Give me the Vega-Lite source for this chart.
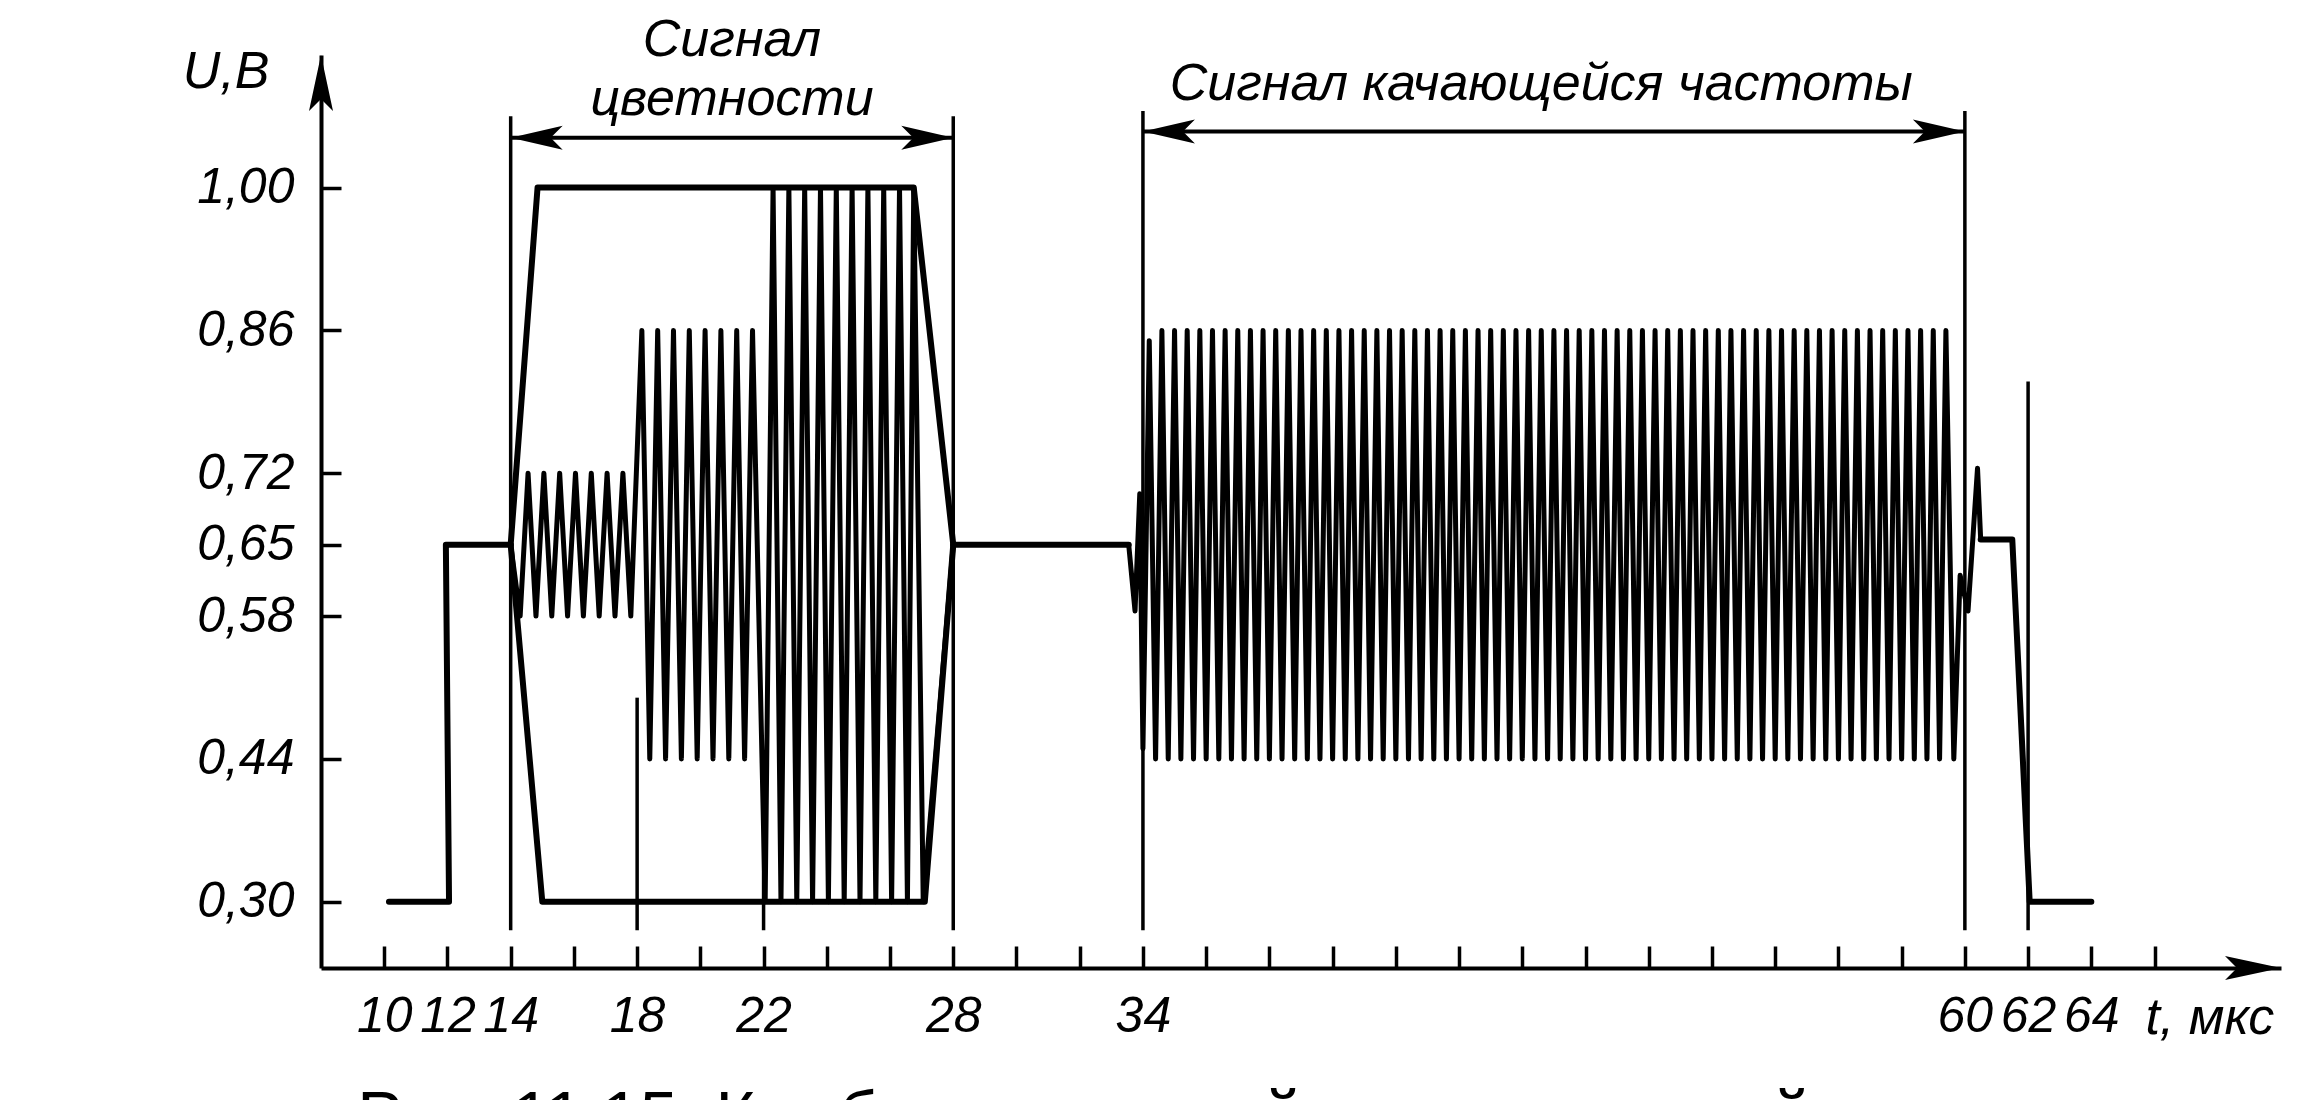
{
  "$schema": "https://vega.github.io/schema/vega-lite/v6.json",
  "width": 1960,
  "height": 913,
  "autosize": "none",
  "padding": {"left": 321, "top": 55, "right": 19, "bottom": 132},
  "background": "white",
  "config": {
    "view": {"stroke": null},
    "font": "Liberation Sans, DejaVu Sans, sans-serif",
    "axis": {
      "domainColor": "black", "domainWidth": 4, "tickColor": "black", "tickWidth": 3.5,
      "labelColor": "black", "labelFont": "Liberation Sans, DejaVu Sans, sans-serif",
      "labelFontSize": 50, "labelFontStyle": "italic", "grid": false,
      "labelOverlap": false, "labelBound": false, "labelFlush": false
    }
  },
  "datasets": {
    "pedestal": [
      {"seg": "a", "t": 10.15, "u": 0.30}, {"seg": "a", "t": 12.05, "u": 0.30}, {"seg": "a", "t": 11.95, "u": 0.65}, {"seg": "a", "t": 14.0, "u": 0.65},
      {"seg": "b", "t": 28.0, "u": 0.65}, {"seg": "b", "t": 33.55, "u": 0.65},
      {"seg": "c", "t": 60.5, "u": 0.655}, {"seg": "c", "t": 61.5, "u": 0.655}, {"seg": "c", "t": 62.05, "u": 0.30}, {"seg": "c", "t": 64.0, "u": 0.30}
    ],
    "envelope": [
      {"seg": "top", "t": 14.0, "u": 0.65}, {"seg": "top", "t": 14.85, "u": 1.0}, {"seg": "top", "t": 26.75, "u": 1.0}, {"seg": "top", "t": 28.0, "u": 0.65},
      {"seg": "bottom", "t": 14.0, "u": 0.65}, {"seg": "bottom", "t": 15.0, "u": 0.30}, {"seg": "bottom", "t": 27.1, "u": 0.30}, {"seg": "bottom", "t": 28.0, "u": 0.65}
    ],
    "chroma": [
      {"t": 14.0, "u": 0.65},
      {"t": 14.3, "u": 0.58}, {"t": 14.55, "u": 0.72}, {"t": 14.8, "u": 0.58}, {"t": 15.05, "u": 0.72}, {"t": 15.3, "u": 0.58},
      {"t": 15.55, "u": 0.72}, {"t": 15.8, "u": 0.58}, {"t": 16.05, "u": 0.72}, {"t": 16.3, "u": 0.58}, {"t": 16.55, "u": 0.72},
      {"t": 16.8, "u": 0.58}, {"t": 17.05, "u": 0.72}, {"t": 17.3, "u": 0.58}, {"t": 17.55, "u": 0.72}, {"t": 17.8, "u": 0.58},
      {"t": 18.15, "u": 0.86}, {"t": 18.4, "u": 0.44}, {"t": 18.65, "u": 0.86}, {"t": 18.9, "u": 0.44}, {"t": 19.15, "u": 0.86},
      {"t": 19.4, "u": 0.44}, {"t": 19.65, "u": 0.86}, {"t": 19.9, "u": 0.44}, {"t": 20.15, "u": 0.86}, {"t": 20.4, "u": 0.44},
      {"t": 20.65, "u": 0.86}, {"t": 20.9, "u": 0.44}, {"t": 21.15, "u": 0.86}, {"t": 21.4, "u": 0.44}, {"t": 21.65, "u": 0.86},
      {"t": 22.05, "u": 0.30}, {"t": 22.3, "u": 1.0}, {"t": 22.55, "u": 0.30}, {"t": 22.8, "u": 1.0}, {"t": 23.05, "u": 0.30},
      {"t": 23.3, "u": 1.0}, {"t": 23.55, "u": 0.30}, {"t": 23.8, "u": 1.0}, {"t": 24.05, "u": 0.30}, {"t": 24.3, "u": 1.0},
      {"t": 24.55, "u": 0.30}, {"t": 24.8, "u": 1.0}, {"t": 25.05, "u": 0.30}, {"t": 25.3, "u": 1.0}, {"t": 25.55, "u": 0.30},
      {"t": 25.8, "u": 1.0}, {"t": 26.05, "u": 0.30}, {"t": 26.3, "u": 1.0}, {"t": 26.55, "u": 0.30}, {"t": 26.75, "u": 1.0},
      {"t": 27.05, "u": 0.30}, {"t": 28.0, "u": 0.65}
    ],
    "sweep": [
      {"t": 33.55, "u": 0.65}, {"t": 33.75, "u": 0.585}, {"t": 33.9, "u": 0.70},
      {"t": 34.0, "u": 0.45}, {"t": 34.2, "u": 0.85}, {"t": 34.4, "u": 0.44}, {"t": 34.6, "u": 0.86}, {"t": 34.8, "u": 0.44},
      {"t": 35.0, "u": 0.86}, {"t": 35.2, "u": 0.44}, {"t": 35.4, "u": 0.86}, {"t": 35.6, "u": 0.44}, {"t": 35.8, "u": 0.86},
      {"t": 36.0, "u": 0.44}, {"t": 36.2, "u": 0.86}, {"t": 36.4, "u": 0.44}, {"t": 36.6, "u": 0.86}, {"t": 36.8, "u": 0.44},
      {"t": 37.0, "u": 0.86}, {"t": 37.2, "u": 0.44}, {"t": 37.4, "u": 0.86}, {"t": 37.6, "u": 0.44}, {"t": 37.8, "u": 0.86},
      {"t": 38.0, "u": 0.44}, {"t": 38.2, "u": 0.86}, {"t": 38.4, "u": 0.44}, {"t": 38.6, "u": 0.86}, {"t": 38.8, "u": 0.44},
      {"t": 39.0, "u": 0.86}, {"t": 39.2, "u": 0.44}, {"t": 39.4, "u": 0.86}, {"t": 39.6, "u": 0.44}, {"t": 39.8, "u": 0.86},
      {"t": 40.0, "u": 0.44}, {"t": 40.2, "u": 0.86}, {"t": 40.4, "u": 0.44}, {"t": 40.6, "u": 0.86}, {"t": 40.8, "u": 0.44},
      {"t": 41.0, "u": 0.86}, {"t": 41.2, "u": 0.44}, {"t": 41.4, "u": 0.86}, {"t": 41.6, "u": 0.44}, {"t": 41.8, "u": 0.86},
      {"t": 42.0, "u": 0.44}, {"t": 42.2, "u": 0.86}, {"t": 42.4, "u": 0.44}, {"t": 42.6, "u": 0.86}, {"t": 42.8, "u": 0.44},
      {"t": 43.0, "u": 0.86}, {"t": 43.2, "u": 0.44}, {"t": 43.4, "u": 0.86}, {"t": 43.6, "u": 0.44}, {"t": 43.8, "u": 0.86},
      {"t": 44.0, "u": 0.44}, {"t": 44.2, "u": 0.86}, {"t": 44.4, "u": 0.44}, {"t": 44.6, "u": 0.86}, {"t": 44.8, "u": 0.44},
      {"t": 45.0, "u": 0.86}, {"t": 45.2, "u": 0.44}, {"t": 45.4, "u": 0.86}, {"t": 45.6, "u": 0.44}, {"t": 45.8, "u": 0.86},
      {"t": 46.0, "u": 0.44}, {"t": 46.2, "u": 0.86}, {"t": 46.4, "u": 0.44}, {"t": 46.6, "u": 0.86}, {"t": 46.8, "u": 0.44},
      {"t": 47.0, "u": 0.86}, {"t": 47.2, "u": 0.44}, {"t": 47.4, "u": 0.86}, {"t": 47.6, "u": 0.44}, {"t": 47.8, "u": 0.86},
      {"t": 48.0, "u": 0.44}, {"t": 48.2, "u": 0.86}, {"t": 48.4, "u": 0.44}, {"t": 48.6, "u": 0.86}, {"t": 48.8, "u": 0.44},
      {"t": 49.0, "u": 0.86}, {"t": 49.2, "u": 0.44}, {"t": 49.4, "u": 0.86}, {"t": 49.6, "u": 0.44}, {"t": 49.8, "u": 0.86},
      {"t": 50.0, "u": 0.44}, {"t": 50.2, "u": 0.86}, {"t": 50.4, "u": 0.44}, {"t": 50.6, "u": 0.86}, {"t": 50.8, "u": 0.44},
      {"t": 51.0, "u": 0.86}, {"t": 51.2, "u": 0.44}, {"t": 51.4, "u": 0.86}, {"t": 51.6, "u": 0.44}, {"t": 51.8, "u": 0.86},
      {"t": 52.0, "u": 0.44}, {"t": 52.2, "u": 0.86}, {"t": 52.4, "u": 0.44}, {"t": 52.6, "u": 0.86}, {"t": 52.8, "u": 0.44},
      {"t": 53.0, "u": 0.86}, {"t": 53.2, "u": 0.44}, {"t": 53.4, "u": 0.86}, {"t": 53.6, "u": 0.44}, {"t": 53.8, "u": 0.86},
      {"t": 54.0, "u": 0.44}, {"t": 54.2, "u": 0.86}, {"t": 54.4, "u": 0.44}, {"t": 54.6, "u": 0.86}, {"t": 54.8, "u": 0.44},
      {"t": 55.0, "u": 0.86}, {"t": 55.2, "u": 0.44}, {"t": 55.4, "u": 0.86}, {"t": 55.6, "u": 0.44}, {"t": 55.8, "u": 0.86},
      {"t": 56.0, "u": 0.44}, {"t": 56.2, "u": 0.86}, {"t": 56.4, "u": 0.44}, {"t": 56.6, "u": 0.86}, {"t": 56.8, "u": 0.44},
      {"t": 57.0, "u": 0.86}, {"t": 57.2, "u": 0.44}, {"t": 57.4, "u": 0.86}, {"t": 57.6, "u": 0.44}, {"t": 57.8, "u": 0.86},
      {"t": 58.0, "u": 0.44}, {"t": 58.2, "u": 0.86}, {"t": 58.4, "u": 0.44}, {"t": 58.6, "u": 0.86}, {"t": 58.8, "u": 0.44},
      {"t": 59.0, "u": 0.86}, {"t": 59.2, "u": 0.44}, {"t": 59.4, "u": 0.86}, {"t": 59.65, "u": 0.44},
      {"t": 59.85, "u": 0.62}, {"t": 60.1, "u": 0.585}, {"t": 60.4, "u": 0.725}, {"t": 60.5, "u": 0.655}
    ],
    "markers": [
      {"t": 14, "u": 0.272, "u2": 1.07}, {"t": 18, "u": 0.272, "u2": 0.50}, {"t": 22, "u": 0.272, "u2": 0.41},
      {"t": 28, "u": 0.272, "u2": 1.07}, {"t": 34, "u": 0.272, "u2": 1.075}, {"t": 60, "u": 0.272, "u2": 1.075},
      {"t": 62, "u": 0.272, "u2": 0.81}
    ],
    "dims": [
      {"t": 14, "t2": 28, "u": 1.049}, {"t": 34, "t2": 60, "u": 1.055}
    ],
    "heads": [
      {"t": 14, "u": 1.049, "dir": "left"}, {"t": 28, "u": 1.049, "dir": "right"},
      {"t": 34, "u": 1.055, "dir": "left"}, {"t": 60, "u": 1.055, "dir": "right"},
      {"t": 70, "u": 0.235, "dir": "axisright"}, {"t": 8, "u": 1.13, "dir": "axisup"}
    ],
    "notes": [
      {"t": 21, "u": 1.129, "text": "Сигнал"},
      {"t": 21, "u": 1.071, "text": "цветности"},
      {"t": 46.6, "u": 1.086, "text": "Сигнал качающейся частоты"},
      {"t": 5.0, "u": 1.098, "text": "U,В"},
      {"t": 67.75, "u": 0.170, "text": "t, мкс"}
    ],
    "caption": [
      {"t": 9.15, "u": 0.067, "text": "Рис. 11.15. Комбинированный испытательный сигнал"}
    ]
  },
  "encoding": {
    "x": {
      "field": "t", "type": "quantitative", "title": null,
      "scale": {"domain": [8, 70], "nice": false, "zero": false},
      "axis": {
        "values": [10, 12, 14, 16, 18, 20, 22, 24, 26, 28, 30, 32, 34, 36, 38, 40, 42, 44, 46, 48, 50, 52, 54, 56, 58, 60, 62, 64, 66],
        "labelExpr": "indexof([10,12,14,18,22,28,34,60,62,64], datum.value) >= 0 ? datum.label : ''",
        "tickSize": -22, "labelPadding": 45
      }
    },
    "y": {
      "field": "u", "type": "quantitative", "title": null,
      "scale": {"domain": [0.235, 1.13], "nice": false, "zero": false},
      "axis": {
        "values": [0.30, 0.44, 0.58, 0.65, 0.72, 0.86, 1.00],
        "labelExpr": "replace(format(datum.value, '.2f'), '.', ',')",
        "tickSize": -20, "labelPadding": 47
      }
    }
  },
  "layer": [
    {
      "data": {"name": "pedestal"},
      "mark": {"type": "line", "color": "black", "strokeWidth": 6, "strokeJoin": "round", "strokeCap": "round"},
      "encoding": {"detail": {"field": "seg"}, "order": {"value": null}}
    },
    {
      "data": {"name": "envelope"},
      "mark": {"type": "line", "color": "black", "strokeWidth": 6, "strokeJoin": "round", "strokeCap": "round"},
      "encoding": {"detail": {"field": "seg"}, "order": {"value": null}}
    },
    {
      "data": {"name": "chroma"},
      "mark": {"type": "line", "color": "black", "strokeWidth": 5, "strokeJoin": "round", "strokeCap": "round"},
      "encoding": {"order": {"value": null}}
    },
    {
      "data": {"name": "sweep"},
      "mark": {"type": "line", "color": "black", "strokeWidth": 5, "strokeJoin": "round", "strokeCap": "round"},
      "encoding": {"order": {"value": null}}
    },
    {
      "data": {"name": "markers"},
      "mark": {"type": "rule", "color": "black", "strokeWidth": 3.5},
      "encoding": {"y2": {"field": "u2"}}
    },
    {
      "data": {"name": "dims"},
      "mark": {"type": "rule", "color": "black", "strokeWidth": 4},
      "encoding": {"x2": {"field": "t2"}}
    },
    {
      "data": {"name": "heads"},
      "mark": {"type": "point", "filled": true, "color": "black", "opacity": 1, "size": 400},
      "encoding": {
        "shape": {
          "field": "dir", "legend": null,
          "scale": {
            "domain": ["left", "right", "axisright", "axisup"],
            "range": [
              "M0,0 L5.2,-1.2 L4.0,0 L5.2,1.2 Z",
              "M0,0 L-5.2,-1.2 L-4.0,0 L-5.2,1.2 Z",
              "M0,0 L-5.6,-1.2 L-4.4,0 L-5.6,1.2 Z",
              "M0,0 L-1.2,5.6 L0,4.4 L1.2,5.6 Z"
            ]
          }
        }
      }
    },
    {
      "data": {"name": "notes"},
      "mark": {"type": "text", "color": "black", "fontSize": 52, "fontStyle": "italic", "align": "center", "baseline": "alphabetic"},
      "encoding": {"text": {"field": "text"}}
    },
    {
      "data": {"name": "caption"},
      "mark": {"type": "text", "color": "black", "fontSize": 68, "align": "left", "baseline": "alphabetic"},
      "encoding": {"text": {"field": "text"}}
    }
  ]
}
